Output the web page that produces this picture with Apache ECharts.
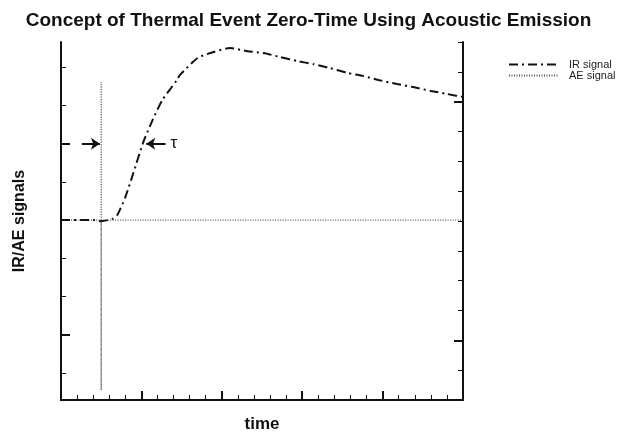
<!DOCTYPE html>
<html>
<head>
<meta charset="utf-8">
<script src="https://cdn.jsdelivr.net/npm/echarts@6/dist/echarts.min.js"></script>
<style>
  html, body { margin: 0; padding: 0; background: #fff; }
  #chart { width: 617px; height: 432px; }
</style>
</head>
<body>
<div id="chart"></div>
<script>
// IR signal (x = time units, y = signal, baseline 0)
var irTime = [0, 1.2, 2.0, 2.5, 3.2, 3.5, 4.0, 4.5, 5.1, 5.7, 6.3, 7.2, 7.4, 8.5, 9.5, 10.5,
              11.6, 12.6, 13.6, 14.7, 15.7, 16.7, 17.8, 18.8, 19.8, 20.9, 21.9, 23.0, 24.0, 25];
var irValue = [0, 0, 0, -0.03, 0.03, 0.13, 0.6, 1.23, 2.02, 2.62, 3.14, 3.66, 3.8, 4.24, 4.4, 4.5,
               4.42, 4.37, 4.27, 4.16, 4.08, 3.98, 3.85, 3.77, 3.66, 3.56, 3.48, 3.38, 3.3, 3.22];
// AE signal: flat with a single spike at the event
var aeTime = [0, 2.5, 2.5, 2.5, 2.5, 25];
var aeValue = [0, 0, 3.61, -4.45, 0, 0];

var leftMinor = [-4, -3, -2, -1, 0, 1, 2, 3, 4];
var leftMajor = [-3, 2];
var rightMajor = [2, 10];

function pairs(xs, ys) {
  var out = [];
  for (var i = 0; i < xs.length; i++) out.push([xs[i], ys[i]]);
  return out;
}

var myChart = echarts.init(document.getElementById('chart'));
var axisCol = '#111';
var font = 'Liberation Sans, Arial, sans-serif';

var option = {
  animation: false,
  title: {
    text: 'Concept of Thermal Event Zero-Time Using Acoustic Emission',
    left: 'center',
    top: 6,
    textStyle: { fontFamily: font, fontSize: 19, fontWeight: 'bold', color: '#111' }
  },
  legend: {
    orient: 'vertical',
    left: 503,
    top: 54,
    itemWidth: 49,
    itemHeight: 10,
    itemGap: 0,
    itemStyle: { opacity: 0 },
    textStyle: { fontFamily: font, fontSize: 11, lineHeight: 10, color: '#222', padding: [0, 0, 0, 6] },
    data: ['IR signal', 'AE signal']
  },
  grid: { left: 61, right: 154, top: 42, bottom: 32, outerBoundsMode: 'none', containLabel: false },
  xAxis: [{
    type: 'value', min: 0, max: 25, interval: 1,
    name: 'time', nameLocation: 'middle', nameGap: 16,
    nameTextStyle: { fontFamily: font, fontSize: 17, fontWeight: 'bold', color: '#111' },
    axisLine: { onZero: false, lineStyle: { color: axisCol, width: 2 } },
    axisTick: { inside: true, length: 5, lineStyle: { color: axisCol, width: 1 } },
    axisLabel: { show: false },
    splitLine: { show: false }
  }, {
    type: 'value', min: 0, max: 25, interval: 5, position: 'bottom',
    axisLine: { show: false, onZero: false },
    axisTick: { inside: true, length: 9, lineStyle: { color: axisCol, width: 2 } },
    axisLabel: { show: false },
    splitLine: { show: false }
  }],
  yAxis: [{
    type: 'value', min: -4.71, max: 4.66, position: 'left',
    name: 'IR/AE signals', nameLocation: 'middle', nameGap: 33,
    nameTextStyle: { fontFamily: font, fontSize: 16, fontWeight: 'bold', color: '#111' },
    axisLine: { show: true, onZero: false, lineStyle: { color: axisCol, width: 2 } },
    axisTick: { show: true, inside: true, length: 5, customValues: leftMinor, lineStyle: { color: axisCol, width: 1 } },
    axisLabel: { show: false },
    splitLine: { show: false }
  }, {
    type: 'value', min: -4.71, max: 4.66, position: 'left',
    axisLine: { show: false, onZero: false },
    axisTick: { show: true, inside: true, length: 9, customValues: leftMajor, lineStyle: { color: axisCol, width: 2 } },
    axisLabel: { show: false },
    splitLine: { show: false }
  }, {
    type: 'value', min: 0, max: 12, interval: 1, position: 'right',
    axisLine: { show: true, onZero: false, lineStyle: { color: axisCol, width: 2 } },
    axisTick: { show: true, inside: true, length: 5, lineStyle: { color: axisCol, width: 1 } },
    axisLabel: { show: false },
    splitLine: { show: false }
  }, {
    type: 'value', min: 0, max: 12, position: 'right',
    axisLine: { show: false, onZero: false },
    axisTick: { show: true, inside: true, length: 9, customValues: rightMajor, lineStyle: { color: axisCol, width: 2 } },
    axisLabel: { show: false },
    splitLine: { show: false }
  }],
  series: [{
    name: 'IR signal',
    type: 'line',
    z: 3,
    smooth: 0.2,
    symbol: 'none',
    color: '#111',
    lineStyle: { color: '#111', width: 2, type: [9, 4, 2, 4] },
    data: pairs(irTime, irValue)
  }, {
    name: 'AE signal',
    type: 'line',
    z: 2,
    symbol: 'none',
    color: '#555',
    lineStyle: { color: '#555', width: 1.2, type: [1, 1.5] },
    data: pairs(aeTime, aeValue),
    markLine: {
      silent: true,
      symbol: ['none', 'arrow'],
      symbolSize: [9, 9],
      lineStyle: { color: '#111', width: 2, type: 'solid' },
      label: { show: false },
      data: [
        [{ coord: [1.3, 2] }, { coord: [2.42, 2] }],
        [{ coord: [6.5, 2], label: { show: true, position: 'start', formatter: '\u03c4', fontSize: 17, color: '#111', fontFamily: font, distance: 5 } },
         { coord: [5.3, 2] }]
      ]
    }
  }]
};
myChart.setOption(option);
</script>
</body>
</html>
